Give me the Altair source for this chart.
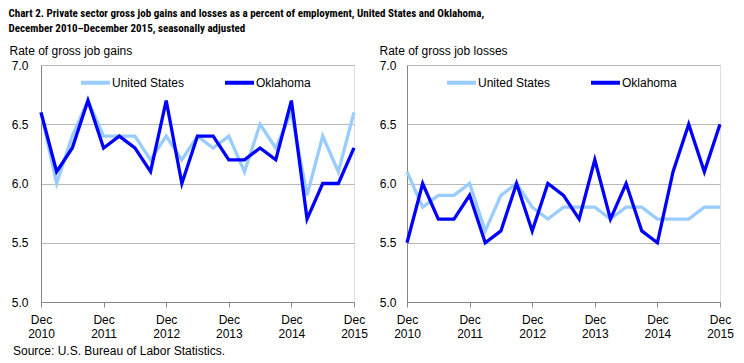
import altair as alt
import pandas as pd

# Quarterly points, Dec 2010 .. Dec 2015 (index 0..20)
quarters = list(range(21))
tick_years = ["2010", "2011", "2012", "2013", "2014", "2015"]
series_names = ["United States", "Oklahoma"]
series_colors = ["#99CCFF", "#0000FF"]

us_gains = [6.6, 6.0, 6.4, 6.7, 6.4, 6.4, 6.4, 6.2, 6.4, 6.2, 6.4,
            6.3, 6.4, 6.1, 6.5, 6.3, 6.6, 5.9, 6.4, 6.1, 6.6]
ok_gains = [6.6, 6.1, 6.3, 6.7, 6.3, 6.4, 6.3, 6.1, 6.7, 6.0, 6.4,
            6.4, 6.2, 6.2, 6.3, 6.2, 6.7, 5.7, 6.0, 6.0, 6.3]
us_losses = [6.1, 5.8, 5.9, 5.9, 6.0, 5.6, 5.9, 6.0, 5.8, 5.7, 5.8,
             5.8, 5.8, 5.7, 5.8, 5.8, 5.7, 5.7, 5.7, 5.8, 5.8]
ok_losses = [5.5, 6.0, 5.7, 5.7, 5.9, 5.5, 5.6, 6.0, 5.6, 6.0, 5.9,
             5.7, 6.2, 5.7, 6.0, 5.6, 5.5, 6.1, 6.5, 6.1, 6.5]

y_ticks = [5.0, 5.5, 6.0, 6.5, 7.0]

title_lines = [
    "Chart 2. Private sector gross  job gains and losses  as a percent of employment, United  States and Oklahoma,",
    "December 2010\u2013December  2015,  seasonally  adjusted",
]
source_text = "Source: U.S. Bureau of Labor Statistics."

FONT = "Liberation Sans"
AXIS_GRAY = "#868686"

label_expr = "['Dec', " + str(tick_years) + "[datum.value / 4]]"


def panel(us, ok, ytitle, title_x, label_pad, source=None):
    df = pd.DataFrame({
        "q": quarters * 2,
        "value": us + ok,
        "series": [series_names[0]] * len(us) + [series_names[1]] * len(ok),
    })
    color = alt.Color(
        "series:N",
        scale=alt.Scale(domain=series_names, range=series_colors),
        legend=alt.Legend(
            title=None, orient="none", legendX=38, legendY=1,
            direction="horizontal", symbolType="stroke", symbolSize=841,
            symbolStrokeWidth=4, labelFontSize=12, labelFont=FONT,
            labelColor="black", columnPadding=32, labelOffset=0, padding=0,
        ),
    )
    x = alt.X(
        "q:Q",
        scale=alt.Scale(domain=[0, 20], nice=False, zero=False),
        axis=alt.Axis(
            values=[0, 4, 8, 12, 16, 20], labelExpr=label_expr, title=None,
            grid=False, ticks=True, tickSize=5, tickColor=AXIS_GRAY,
            domainColor=AXIS_GRAY, labelFontSize=12, labelFont=FONT,
            labelColor="black", labelPadding=7, labelLineHeight=14,
            labelFlush=False, labelOverlap=False,
        ),
    )
    y = alt.Y(
        "value:Q",
        scale=alt.Scale(domain=[5, 7], nice=False, zero=False),
        axis=alt.Axis(
            values=y_ticks, format=".1f", grid=True, gridColor="#B8B8B8",
            ticks=False, domainColor=AXIS_GRAY, labelPadding=label_pad,
            labelFontSize=12, labelFont=FONT, labelColor="black",
            title=ytitle, titleAngle=0, titleAlign="left",
            titleBaseline="alphabetic", titleX=title_x, titleY=-11,
            titleFontWeight="normal", titleFontSize=12, titleFont=FONT,
            titleColor="black",
        ),
    )
    base = alt.Chart(df).encode(x=x, y=y, color=color)
    us_line = base.transform_filter(alt.datum.series == series_names[0]).mark_line(strokeWidth=3.3)
    ok_line = base.transform_filter(alt.datum.series == series_names[1]).mark_line(strokeWidth=3.3)
    props = dict(width=313, height=237)
    if source:
        props["title"] = alt.TitleParams(
            source, orient="bottom", anchor="start", dx=4, offset=7,
            fontSize=12, fontWeight="normal", font=FONT, color="black",
        )
    return alt.layer(us_line, ok_line).properties(**props)


left = panel(us_gains, ok_gains, "Rate of gross job gains", -32, 13, source=source_text)
right = panel(us_losses, ok_losses, "Rate of gross job losses", -28, 11)

chart = alt.hconcat(
    left, right, spacing=53, bounds="flush",
    title=alt.TitleParams(
        title_lines, anchor="start", frame="bounds",
        font="Liberation Sans Narrow, Roboto Condensed, Arial Narrow, sans-serif",
        fontSize=11, fontWeight="bold", lineHeight=14.5, offset=10, color="black",
    ),
).resolve_legend(color="independent").properties(
    padding={"left": 0, "top": 0, "right": 0, "bottom": 0}
).configure_view(stroke="#C8C8C8").configure(font=FONT)

chart.save("out.html", embed_options={"renderer": "svg", "actions": False})
